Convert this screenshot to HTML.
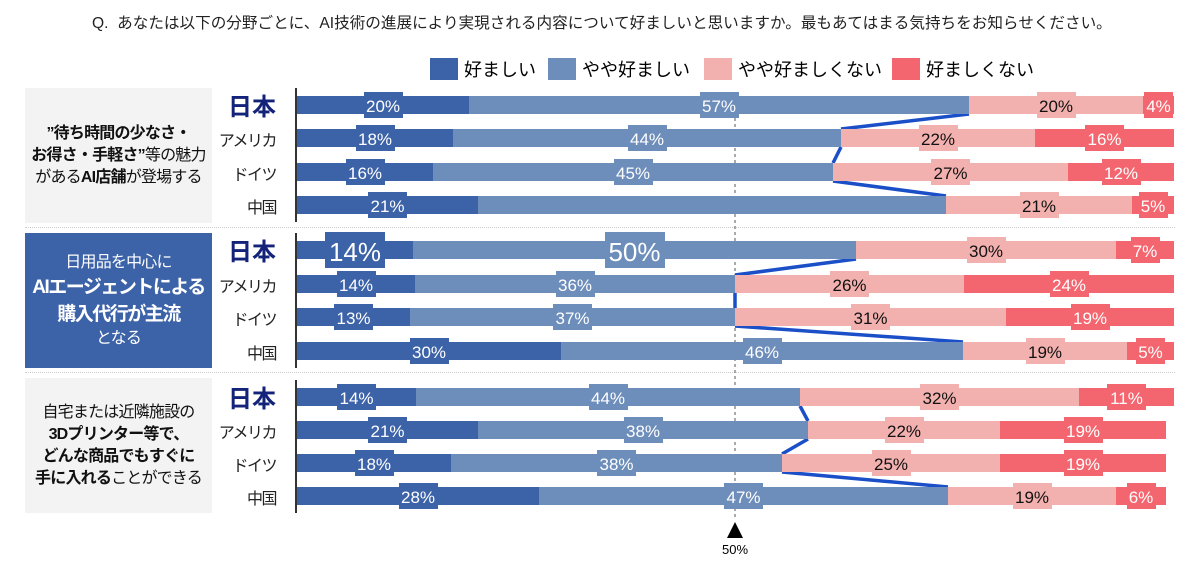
<!DOCTYPE html>
<html><head><meta charset="utf-8">
<style>
body{margin:0;width:1200px;height:565px;background:#fff;position:relative;overflow:hidden;font-family:"Liberation Sans","Noto Sans CJK JP",sans-serif;}
.a{position:absolute;}
.lb{position:absolute;text-align:center;white-space:nowrap;line-height:26px;font-size:17px;}
.panel{position:absolute;left:25px;width:187px;height:135px;display:flex;flex-direction:column;justify-content:center;align-items:center;text-align:center;font-size:16px;line-height:22px;color:#111;letter-spacing:-0.8px;white-space:nowrap;}
.cty{position:absolute;right:924px;font-size:16px;color:#222;text-align:right;white-space:nowrap;letter-spacing:-1.5px;}
.jp{font-size:24px;font-weight:bold;color:#14237a;letter-spacing:0;}
</style></head><body>
<div class="a" style="left:92px;top:11px;font-size:15.6px;color:#222;white-space:nowrap">Q.&nbsp; あなたは以下の分野ごとに、AI技術の進展により実現される内容について好ましいと思いますか。最もあてはまる気持ちをお知らせください。</div>

<div class="a" style="left:430px;top:58px;width:28px;height:22px;background:#3c62a8"></div>
<div class="a" style="left:464px;top:56px;font-size:18px">好ましい</div>
<div class="a" style="left:548px;top:58px;width:28px;height:22px;background:#6d8dba"></div>
<div class="a" style="left:582px;top:56px;font-size:18px">やや好ましい</div>
<div class="a" style="left:704px;top:58px;width:28px;height:22px;background:#f2b0ae"></div>
<div class="a" style="left:738px;top:56px;font-size:18px">やや好ましくない</div>
<div class="a" style="left:892px;top:58px;width:28px;height:22px;background:#f4666f"></div>
<div class="a" style="left:926px;top:56px;font-size:18px">好ましくない</div>

<div class="panel" style="top:88px;background:#f3f3f3;font-weight:bold"><div>”待ち時間の少なさ・<br>お得さ・手軽さ”<span style="font-weight:normal">等の魅力</span><br><span style="font-weight:normal">がある</span>AI店舗<span style="font-weight:normal">が登場する</span></div></div>
<div class="panel" style="top:233px;background:#3c62a8;color:#fff"><div><span style="font-size:16px">日用品を中心に</span><br><b style="font-size:19px;line-height:27px;letter-spacing:-1.5px">AIエージェントによる<br>購入代行が主流</b><br><span style="font-size:16px">となる</span></div></div>
<div class="panel" style="top:378px;background:#f3f3f3"><div>自宅または近隣施設の<br><b>3Dプリンター等で、<br>どんな商品でもすぐに<br>手に入れる</b>ことができる</div></div>

<div class="a" style="left:25px;top:227px;width:1150px;border-top:1px dotted #ccc"></div>
<div class="a" style="left:25px;top:372px;width:1150px;border-top:1px dotted #ccc"></div>

<svg class="a" style="left:0;top:0" width="1200" height="565" id="sv">
<line x1="735" y1="100" x2="735" y2="518" stroke="#555" stroke-width="1" stroke-dasharray="3,3"/>
<polygon points="735,522 727,538 743,538" fill="#000"/>
<text x="735" y="554" font-size="13" text-anchor="middle" font-family="Liberation Sans, sans-serif">50%</text>
</svg>
<div id="root"></div>
<script>
var C=['#3c62a8','#6d8dba','#f2b0ae','#f4666f'];
var TC=['#fff','#fff','#111','#fff'];
var secs=[
 {tops:[96,129,163,196],rows:[
  [[20,57,20,4],[469,969,1143,1174]],
  [[18,44,22,16],[453,841,1035,1174]],
  [[16,45,27,12],[433,833,1068,1174]],
  [[21,null,21,5],[478,946,1132,1174]]]},
 {tops:[241,275,308,342],big:true,rows:[
  [[14,50,30,7],[413,856,1116,1174]],
  [[14,36,26,24],[415,735,964,1174]],
  [[13,37,31,19],[410,735,1006,1174]],
  [[30,46,19,5],[561,963,1127,1174]]]},
 {tops:[388,421,454,487],rows:[
  [[14,44,32,11],[416,800,1079,1174]],
  [[21,38,22,19],[478,808,1000,1166]],
  [[18,38,25,19],[451,782,1000,1166]],
  [[28,47,19,6],[539,948,1116,1166]]]}
];
var names=['日本','アメリカ','ドイツ','中国'];
var h='',sv=document.getElementById('sv'),svh='';
var H=18;
secs.forEach(function(s,si){
  var t0=s.tops[0];
  h+='<div class="a" style="left:295px;top:'+(t0-8)+'px;width:2px;height:'+(s.tops[3]+H+8-(t0-8))+'px;background:#333"></div>';
  s.rows.forEach(function(r,ri){
    var top=s.tops[ri];
    var nm=names[ri];
    if(ri==0) h+='<div class="cty jp" style="top:'+(top-9)+'px">'+nm+'</div>';
    else h+='<div class="cty" style="top:'+(top-2)+'px">'+nm+'</div>';
    var x0=297;
    for(var k=0;k<4;k++){
      var x1=r[1][k];
      h+='<div class="a" style="left:'+x0+'px;top:'+top+'px;width:'+(x1-x0)+'px;height:'+H+'px;background:'+C[k]+'"></div>';
      if(r[0][k]!==null){
      var big=s.big&&ri==0&&k<2;
      var fs=big?26:17, bh=big?36:26;
      var txt=r[0][k]+'%';
      var w=Math.round(txt.length*fs*0.56+ (big?16:10));
      var cx=(x0+x1)/2;
      var bt=big?top-9:top-4;
      h+='<div class="lb" style="left:'+(cx-w/2)+'px;top:'+bt+'px;width:'+w+'px;height:'+bh+'px;line-height:'+(bh+4)+'px;font-size:'+fs+'px;background:'+C[k]+';color:'+TC[k]+'">'+txt+'</div>';
      }
      x0=x1;
    }
    if(ri<3){
      var xa=r[1][1], xb=s.rows[ri+1][1][1];
      svh+='<line x1="'+xa+'" y1="'+(top+H)+'" x2="'+xb+'" y2="'+s.tops[ri+1]+'" stroke="#1a4fc8" stroke-width="3.5"/>';
    }
  });
});
document.getElementById('root').innerHTML=h;
sv.innerHTML+=svh;
</script>
</body></html>
